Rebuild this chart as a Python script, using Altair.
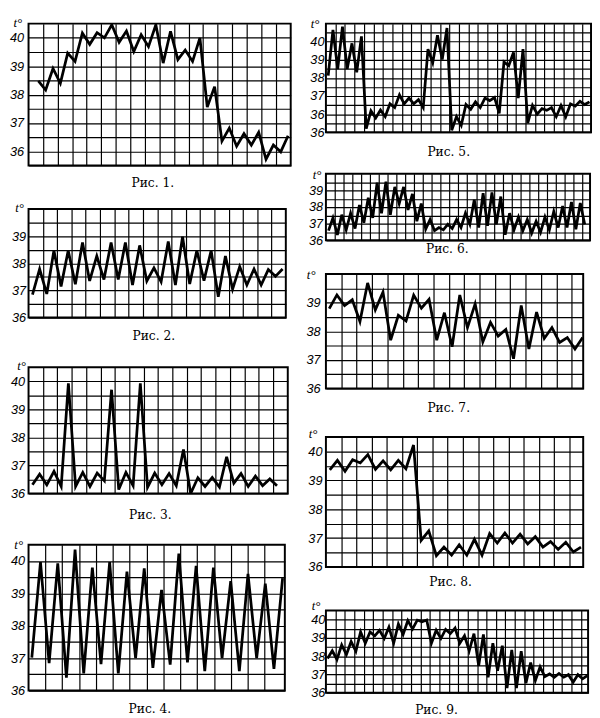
import altair as alt
import pandas as pd

# ---------------- data ----------------
captions = ["Рис. 1.", "Рис. 2.", "Рис. 3.", "Рис. 4.", "Рис. 5.",
            "Рис. 6.", "Рис. 7.", "Рис. 8.", "Рис. 9."]

fig1_temps = [38.48, 38.16, 38.92, 38.40, 39.46, 39.17, 40.17, 39.77, 40.18, 40.00,
              40.46, 39.84, 40.24, 39.52, 40.11, 39.69, 40.46, 39.11, 40.23, 39.23,
              39.57, 39.17, 40.00, 37.56, 38.28, 36.36, 36.82, 36.18, 36.62, 36.22,
              36.67, 35.72, 36.22, 35.98, 36.55]
fig2_temps = [36.85, 37.79, 36.87, 38.47, 37.15, 38.47, 37.23, 38.77, 37.35, 38.27,
              37.40, 38.77, 37.40, 38.77, 37.20, 38.66, 37.35, 37.83, 37.32, 38.80,
              37.20, 38.98, 37.24, 38.47, 37.36, 38.47, 36.77, 38.27, 37.05, 37.88,
              37.20, 37.79, 37.20, 37.77, 37.52, 37.79]
fig3_temps = [36.31, 36.69, 36.31, 36.79, 36.25, 39.93, 36.25, 36.75, 36.25, 36.73,
              36.45, 39.70, 36.14, 36.75, 36.28, 39.93, 36.22, 36.73, 36.31, 36.71,
              36.28, 37.57, 36.00, 36.56, 36.25, 36.57, 36.23, 37.31, 36.37, 36.71,
              36.25, 36.62, 36.28, 36.52, 36.28]
fig4_temps = [37.02, 39.97, 36.85, 39.93, 36.40, 40.35, 36.53, 39.80, 36.82, 39.97,
              36.53, 39.67, 37.00, 39.77, 36.70, 39.11, 36.80, 40.23, 36.87, 39.85,
              36.60, 39.80, 37.00, 39.38, 36.60, 39.60, 37.00, 39.30, 36.67, 39.47]
fig5_temps = [38.13, 40.66, 38.49, 40.84, 38.49, 39.91, 38.31, 40.30, 35.20, 36.18,
              35.79, 36.23, 35.86, 36.57, 36.36, 37.07, 36.57, 36.89, 36.57, 36.80,
              36.36, 39.59, 38.84, 40.36, 39.02, 40.76, 35.11, 35.86, 35.38, 36.53,
              36.27, 36.68, 36.36, 36.89, 36.75, 36.92, 36.04, 38.88, 38.67, 39.41,
              36.89, 39.59, 35.50, 36.48, 36.00, 36.30, 36.21, 36.36, 35.86, 36.48,
              35.86, 36.57, 36.44, 36.71, 36.53, 36.68]
fig6_temps = [36.58, 37.35, 36.33, 37.54, 36.63, 37.63, 36.71, 38.12, 37.06, 38.56,
              37.35, 39.46, 37.63, 39.52, 37.54, 39.21, 38.21, 39.21, 37.83, 38.79,
              37.15, 38.21, 36.67, 37.25, 36.58, 36.77, 36.63, 36.96, 36.71, 37.25,
              36.77, 37.63, 36.96, 38.44, 36.77, 38.83, 36.87, 38.88, 36.96, 38.63,
              36.33, 37.63, 36.63, 37.40, 36.58, 37.25, 36.44, 37.15, 36.48, 37.40,
              36.63, 37.73, 36.77, 38.06, 36.77, 38.31, 36.67, 38.25, 36.96]
fig7_temps = [38.79, 39.27, 38.90, 39.10, 38.34, 39.69, 38.75, 39.37, 37.69, 38.56,
              38.36, 39.26, 38.81, 39.12, 37.69, 38.65, 37.46, 39.27, 38.13, 38.96,
              37.63, 38.31, 37.83, 38.06, 37.04, 38.90, 37.38, 38.67, 37.75, 38.13,
              37.61, 37.78, 37.38, 37.78]
fig8_temps = [39.36, 39.69, 39.31, 39.71, 39.60, 39.89, 39.38, 39.67, 39.36, 39.69,
              39.40, 40.22, 36.92, 37.25, 36.39, 36.69, 36.41, 36.77, 36.41, 36.96,
              36.41, 37.16, 36.83, 37.18, 36.83, 37.14, 36.80, 37.05, 36.69, 36.88,
              36.61, 36.86, 36.52, 36.69]
fig9_temps = [37.88, 38.30, 37.82, 38.62, 38.09, 38.80, 38.27, 39.33, 38.71, 39.33,
              39.12, 39.42, 38.97, 39.59, 38.71, 39.77, 39.19, 39.95, 39.50, 39.98,
              39.89, 39.98, 38.71, 39.42, 38.97, 39.47, 39.24, 39.54, 38.71, 39.12,
              38.30, 39.24, 37.47, 39.19, 36.85, 38.71, 37.20, 38.58, 36.25, 38.35,
              36.25, 38.27, 36.53, 37.65, 36.67, 37.42, 36.88, 37.03, 36.85, 37.06,
              36.85, 36.99, 36.58, 36.99, 36.76, 36.94]

# y tick labels shown on each panel (value -> printed text)
labels_36_40 = ([36, 37, 38, 39, 40], ["36", "37", "38", "39", "40"])
labels_36_39 = ([36, 37, 38, 39], ["36", "37", "38", "39"])
labels_fig5 = ([35, 36, 37, 38, 39, 40], ["36", "36", "37", "38", "39", "40"])

temps_all = [fig1_temps, fig2_temps, fig3_temps, fig4_temps, fig5_temps,
             fig6_temps, fig7_temps, fig8_temps, fig9_temps]
labels_all = [labels_36_40, labels_36_39, labels_36_40, labels_36_40, labels_fig5,
              labels_36_39, labels_36_39, labels_36_40, labels_36_40]

# ---------------- layout / style per panel ----------------
layout = [
    dict(offset=1.33, W=35.69, step=1.98, ydom=(35.5, 40.5), w=268, h=145, pad=5, tx=-16, ty=-1, cap_off=5, cap_dx=-7),
    dict(offset=0.55, W=36.0, step=2.0, ydom=(36, 40), w=263, h=111, pad=3, tx=-14, ty=-1, cap_off=5.7, cap_dx=-3.5),
    dict(offset=0.54, W=36.04, step=2.0, ydom=(36, 40.5), w=265, h=129, pad=4, tx=-12, ty=-2, cap_off=9, cap_dx=-8),
    dict(offset=0.38, W=29.64, step=1.95, ydom=(36, 40.5), w=262, h=149, pad=4, tx=-15, ty=0, cap_off=6, cap_dx=-7),
    dict(offset=0.48, W=55.8, step=2.0, ydom=(35, 41), w=271, h=111, pad=2, tx=-16, ty=0, cap_off=7, cap_dx=-10),
    dict(offset=0.59, W=59.8, step=2.0, ydom=(36, 40), w=270, h=68, pad=3.4, tx=-14, ty=1, cap_off=-4, cap_dx=-11),
    dict(offset=0.43, W=33.5, step=2.0, ydom=(36, 40), w=263, h=117, pad=6, tx=-20, ty=1, cap_off=7, cap_dx=-6),
    dict(offset=0.51, W=33.8, step=2.0, ydom=(36, 40.5), w=263, h=133, pad=4, tx=-18, ty=-3, cap_off=2, cap_dx=-4),
    dict(offset=0.34, W=55.5, step=2.0, ydom=(36, 40.5), w=268, h=84, pad=1, tx=-15, ty=-5, cap_off=5, cap_dx=-21),
]

LABEL_FONT = "Liberation Sans"
CAPTION_FONT = "DejaVu Serif"
TITLE_FONT = "Liberation Serif"


def make_panel(temps, caption, labels, lay):
    df = pd.DataFrame({"day": [lay["offset"] + i for i in range(len(temps))],
                       "t": temps})
    W, step = lay["W"], lay["step"]
    xgrid = []
    k = 1
    while k * step < W - 0.6 * step:
        xgrid.append(round(k * step, 4))
        k += 1
    ylo, yhi = lay["ydom"]
    nrows = int(round((yhi - ylo) / 0.5))
    ygrid = [ylo + 0.5 * j for j in range(nrows)]
    expr = "''"
    for v, txt in zip(*labels):
        expr = f"abs(datum.value - {v}) < 0.01 ? '{txt}' : ({expr})"

    return alt.Chart(df).mark_line(
        color="black", strokeWidth=2.8, strokeJoin="miter", strokeMiterLimit=4, clip=True
    ).encode(
        x=alt.X("day:Q",
                scale=alt.Scale(domain=[0, W], nice=False, zero=False),
                axis=alt.Axis(values=xgrid, labels=False, ticks=False, domain=False,
                              grid=True, gridColor="black", gridWidth=1.2,
                              gridOpacity=1, title=None)),
        y=alt.Y("t:Q",
                scale=alt.Scale(domain=[ylo, yhi], nice=False, zero=False),
                axis=alt.Axis(values=ygrid, labelExpr=expr, ticks=False, domain=False,
                              grid=True, gridColor="black", gridWidth=1.2, gridOpacity=1,
                              labelFont=LABEL_FONT, labelFontSize=13,
                              labelFontStyle="italic", labelColor="black",
                              labelPadding=lay["pad"], labelBaseline="middle",
                              labelOverlap=False, labelFlush=False,
                              title="t°", titleAngle=0, titleX=lay["tx"], titleY=lay["ty"],
                              titleAlign="left", titleBaseline="middle",
                              titleFont=TITLE_FONT, titleFontSize=13,
                              titleFontStyle="italic", titleFontWeight="normal",
                              titleColor="black")),
    ).properties(
        width=lay["w"], height=lay["h"],
        title=alt.TitleParams(text=caption, orient="bottom", anchor="middle",
                              frame="group", offset=lay["cap_off"], dx=lay["cap_dx"],
                              baseline="top", font=CAPTION_FONT, fontSize=12.5,
                              fontWeight="normal", color="black"),
    )


panels = [make_panel(t, c, lb, ly) for t, c, lb, ly in
          zip(temps_all, captions, labels_all, layout)]
p1, p2, p3, p4, p5, p6, p7, p8, p9 = panels

left = alt.vconcat(
    p1,
    alt.vconcat(p2, alt.vconcat(p3, p4, spacing=15.5), spacing=14.8),
    spacing=10.5,
)
right = alt.vconcat(
    p5,
    alt.vconcat(p6, p7, alt.vconcat(p8, p9, spacing=9.5), spacing=11.5),
    spacing=8.5,
)

chart = alt.hconcat(left, right, spacing=13).properties(
    padding=0, background="white"
).configure_view(stroke="black", strokeWidth=2)

chart.save("out.html", embed_options={"renderer": "svg", "actions": False})
